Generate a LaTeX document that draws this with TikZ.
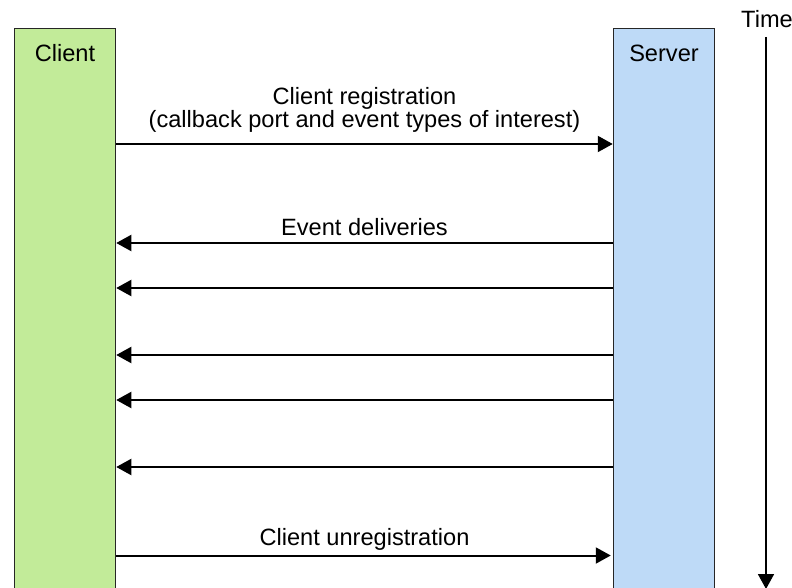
\documentclass[tikz,border=0pt]{standalone}
\usepackage{fontspec}
\setmainfont{Liberation Sans}
\usetikzlibrary{arrows.meta,calc}
\definecolor{clientgreen}{RGB}{194,235,153}
\definecolor{serverblue}{RGB}{190,218,247}
\begin{document}
\begin{tikzpicture}[x=1pt,y=-1pt,
  lane/.style={draw=black!85,line width=1.5pt,minimum width=101pt,minimum height=566pt,inner sep=0pt},
  lbl/.style={font=\fontsize{23.6}{24}\selectfont,inner sep=0pt,anchor=base},
  msg/.style={line width=2pt,-{Triangle[length=15pt,width=16pt]}},
  timearrow/.style={line width=1.8pt,-{Triangle[length=15pt,width=16pt]}}]
\clip (0,0) rectangle (792,588);
\fill[white] (0,0) rectangle (792,588);
% lanes
\node[lane,fill=clientgreen,anchor=north] (client) at (65,28) {};
\node[lane,fill=serverblue,anchor=north] (server) at (664,28) {};
\node[lbl] (clientlbl) at (65,61.5) {Client};
\node[lbl] (serverlbl) at (664,62) {Server};
% time
\node[lbl] (timelbl) at (767,27.7) {Time};
\coordinate (ttop) at (766,37);
\coordinate (tbot) at (766,589);
\draw[timearrow] (ttop) -- (tbot);
% labels
\node[lbl] (reg1) at (364.5,105) {Client registration};
\node[lbl] (reg2) at (364.5,128) {(callback port and event types of interest)};
\node[lbl] (evt) at (364.5,235.3) {Event deliveries};
\node[lbl] (unreg) at (364.5,545) {Client unregistration};
% messages
\draw[msg] (client.east |- 0,144) -- (server.west |- 0,144);
\foreach \yy in {243,288,355,400,467}{
  \draw[msg] (server.west |- 0,\yy) -- (client.east |- 0,\yy);
}
\draw[msg] (client.east |- 0,555.5) -- ($(server.west |- 0,555.5)+(-2,0)$);
\end{tikzpicture}
\end{document}
